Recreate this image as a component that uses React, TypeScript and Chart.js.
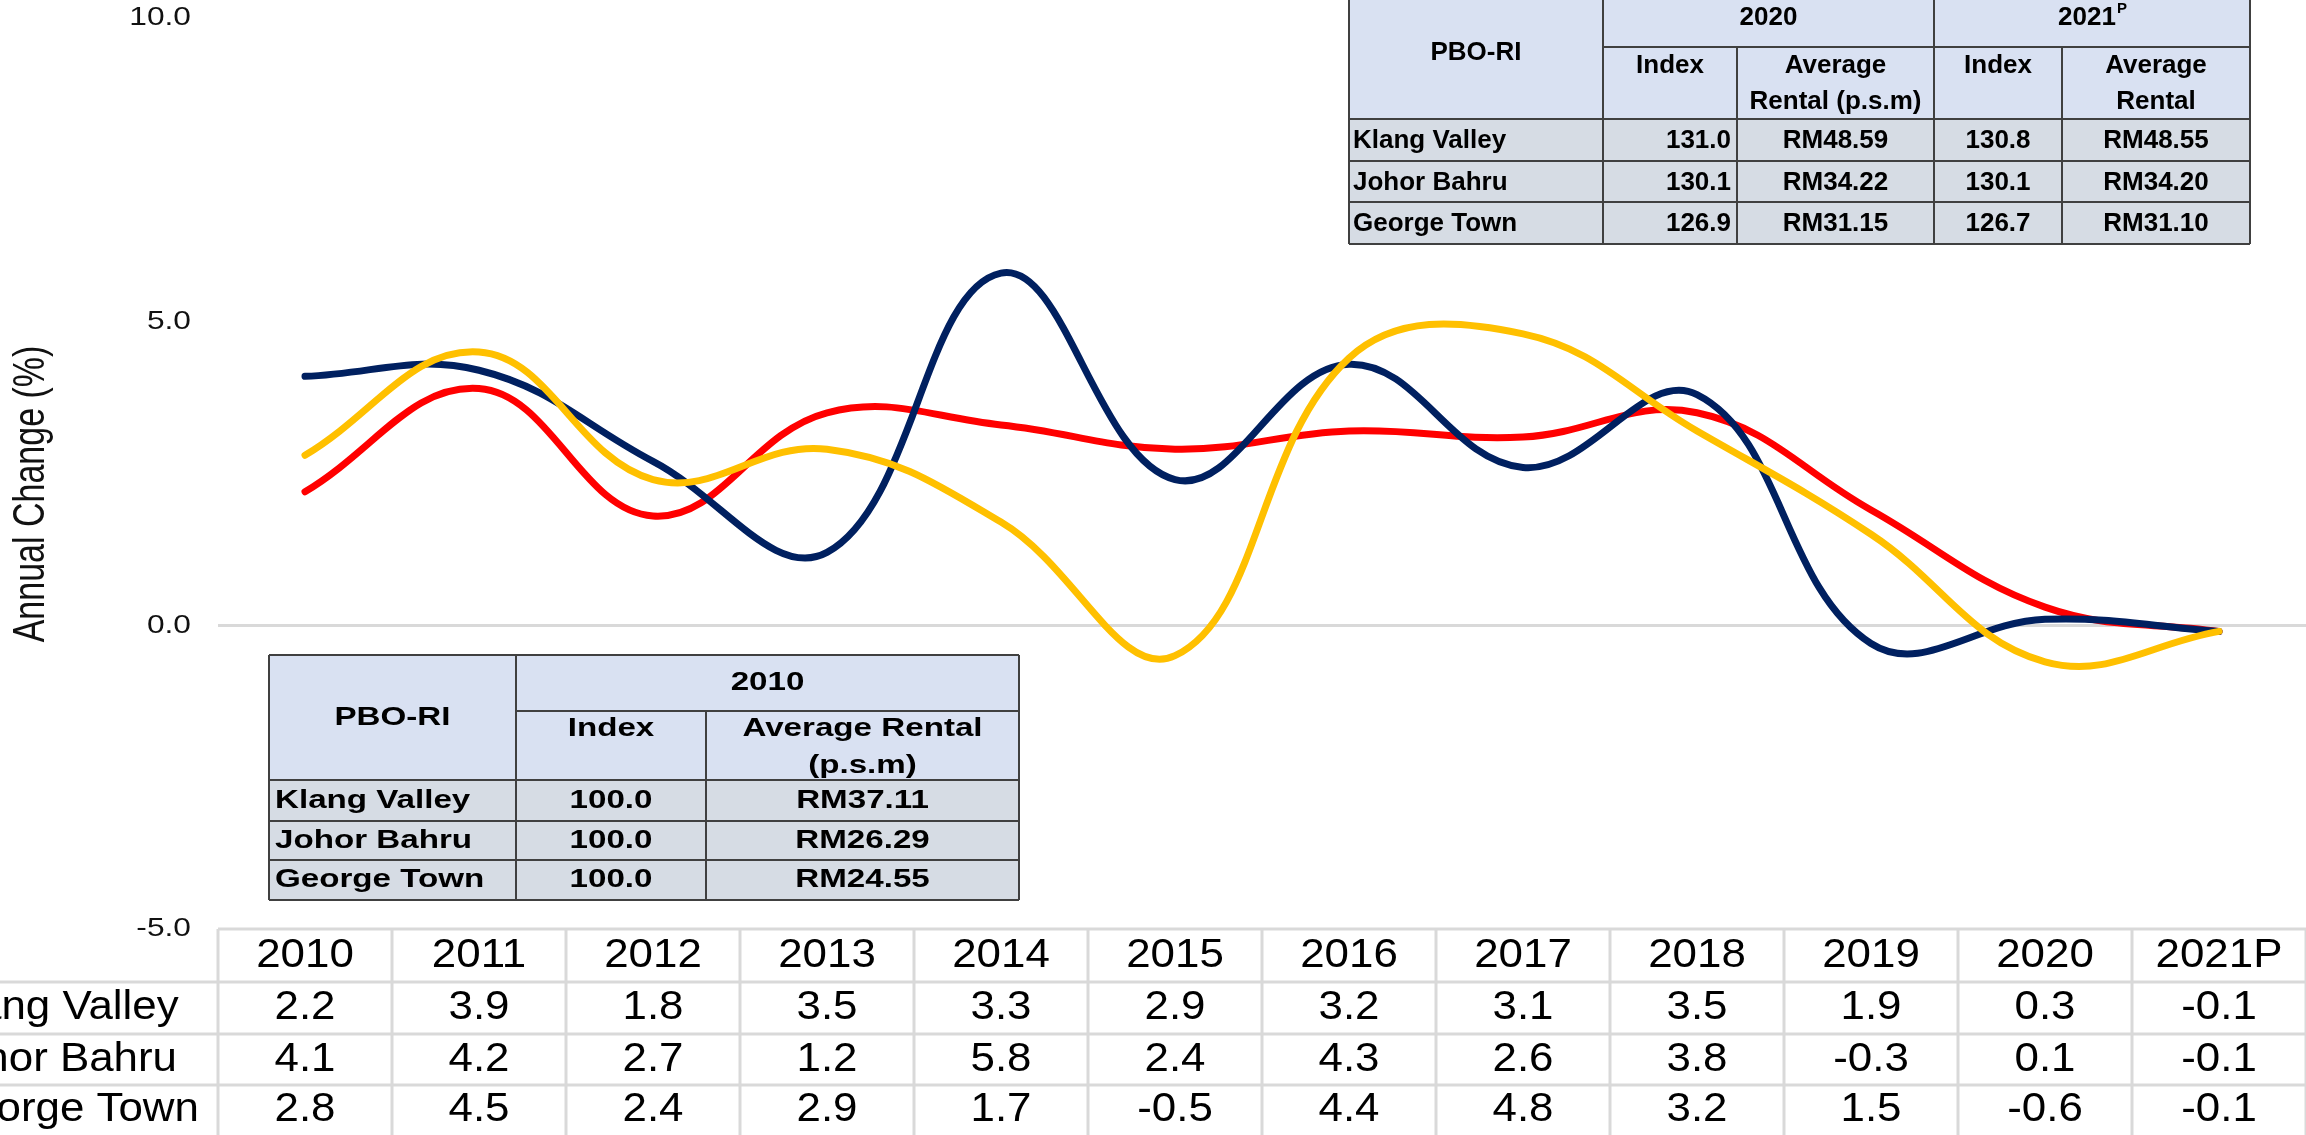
import { useEffect, useRef } from "react";
import { Chart, registerables } from "chart.js";

Chart.register(...registerables);

// ---------- data ----------
const categories = ["2010", "2011", "2012", "2013", "2014", "2015", "2016", "2017", "2018", "2019", "2020", "2021P"];
const seriesNames = ["Klang Valley", "Johor Bahru", "George Town"];
const klangValley = [2.2, 3.9, 1.8, 3.5, 3.3, 2.9, 3.2, 3.1, 3.5, 1.9, 0.3, -0.1];
const johorBahru = [4.1, 4.2, 2.7, 1.2, 5.8, 2.4, 4.3, 2.6, 3.8, -0.3, 0.1, -0.1];
const georgeTown = [2.8, 4.5, 2.4, 2.9, 1.7, -0.5, 4.4, 4.8, 3.2, 1.5, -0.6, -0.1];
const yMin = -5;
const yMax = 10;
const yStep = 5;
const yTitle = "Annual Change (%)";

// inset tables
const insetRegions = ["Klang Valley", "Johor Bahru", "George Town"];
const base2010Index = ["100.0", "100.0", "100.0"];
const base2010Rental = ["RM37.11", "RM26.29", "RM24.55"];
const index2020 = ["131.0", "130.1", "126.9"];
const rental2020 = ["RM48.59", "RM34.22", "RM31.15"];
const index2021 = ["130.8", "130.1", "126.7"];
const rental2021 = ["RM48.55", "RM34.20", "RM31.10"];

// ---------- styles / layout ----------
const FONT = "'Liberation Sans', Arial, sans-serif";
const COLORS = { klang: "#FF0000", johor: "#002060", george: "#FFC000" };
const GRID = "#D9D9D9";
const HEAD_BG = "#D9E1F2";
const ROW_BG = "#D6DCE4";
const BORDER = "#404040";
const W = 2306;
const H = 1135;

function txt(ctx: CanvasRenderingContext2D, s: string, x: number, y: number, size: number, bold: boolean, align: CanvasTextAlign, sx: number, color = "#000") {
  ctx.save();
  ctx.font = `${bold ? "bold " : ""}${size}px ${FONT}`;
  ctx.fillStyle = color;
  ctx.textAlign = align;
  ctx.textBaseline = "middle";
  ctx.translate(x, y);
  ctx.scale(sx, 1);
  ctx.fillText(s, 0, 0);
  ctx.restore();
}

function ln(ctx: CanvasRenderingContext2D, x1: number, y1: number, x2: number, y2: number, color: string, w: number) {
  ctx.save();
  ctx.strokeStyle = color;
  ctx.lineWidth = w;
  ctx.beginPath();
  ctx.moveTo(x1, y1);
  ctx.lineTo(x2, y2);
  ctx.stroke();
  ctx.restore();
}

function box(ctx: CanvasRenderingContext2D, x: number, y: number, w: number, h: number, fill: string) {
  ctx.save();
  ctx.fillStyle = fill;
  ctx.fillRect(x, y, w, h);
  ctx.restore();
}

function drawBaseTable(ctx: CanvasRenderingContext2D) {
  const xs = [269, 516, 706, 1019];
  const y0 = 655, yH = 711, y1 = 780;
  const rows = [780, 821, 860, 900];
  const fs = 25.5, sx = 1.3;
  box(ctx, xs[0], y0, xs[3] - xs[0], y1 - y0, HEAD_BG);
  box(ctx, xs[0], y1, xs[3] - xs[0], rows[3] - y1, ROW_BG);
  ln(ctx, xs[0], y0, xs[3], y0, BORDER, 2);
  ln(ctx, xs[0], rows[3], xs[3], rows[3], BORDER, 2);
  ln(ctx, xs[0], y0, xs[0], rows[3], BORDER, 2);
  ln(ctx, xs[3], y0, xs[3], rows[3], BORDER, 2);
  ln(ctx, xs[1], y0, xs[1], rows[3], BORDER, 2);
  ln(ctx, xs[2], yH, xs[2], rows[3], BORDER, 2);
  ln(ctx, xs[1], yH, xs[3], yH, BORDER, 2);
  for (let i = 0; i < 3; i++) ln(ctx, xs[0], rows[i], xs[3], rows[i], BORDER, 2);

  txt(ctx, "PBO-RI", (xs[0] + xs[1]) / 2, (y0 + y1) / 2, fs, true, "center", sx);
  txt(ctx, "2010", (xs[1] + xs[3]) / 2, (y0 + yH) / 2, fs, true, "center", sx);
  txt(ctx, "Index", (xs[1] + xs[2]) / 2, 729, fs, true, "center", sx);
  txt(ctx, "Average Rental", (xs[2] + xs[3]) / 2, 729, fs, true, "center", sx);
  txt(ctx, "(p.s.m)", (xs[2] + xs[3]) / 2, 766, fs, true, "center", sx);
  for (let i = 0; i < 3; i++) {
    const cy = (rows[i] + rows[i + 1]) / 2;
    txt(ctx, insetRegions[i], xs[0] + 6, cy, fs, true, "left", sx);
    txt(ctx, base2010Index[i], (xs[1] + xs[2]) / 2, cy, fs, true, "center", sx);
    txt(ctx, base2010Rental[i], (xs[2] + xs[3]) / 2, cy, fs, true, "center", sx);
  }
}

function drawLatestTable(ctx: CanvasRenderingContext2D) {
  const xs = [1349, 1603, 1737, 1934, 2062, 2250];
  const y0 = -13, yH = 47, y1 = 119;
  const rows = [119, 161, 202, 244];
  const fs = 26, sx = 1.0;
  box(ctx, xs[0], y0, xs[5] - xs[0], y1 - y0, HEAD_BG);
  box(ctx, xs[0], y1, xs[5] - xs[0], rows[3] - y1, ROW_BG);
  ln(ctx, xs[0], rows[3], xs[5], rows[3], BORDER, 2);
  ln(ctx, xs[0], y0, xs[0], rows[3], BORDER, 2);
  ln(ctx, xs[5], y0, xs[5], rows[3], BORDER, 2);
  ln(ctx, xs[1], y0, xs[1], rows[3], BORDER, 2);
  ln(ctx, xs[3], y0, xs[3], rows[3], BORDER, 2);
  ln(ctx, xs[2], yH, xs[2], rows[3], BORDER, 2);
  ln(ctx, xs[4], yH, xs[4], rows[3], BORDER, 2);
  ln(ctx, xs[1], yH, xs[5], yH, BORDER, 2);
  for (let i = 0; i < 3; i++) ln(ctx, xs[0], rows[i], xs[5], rows[i], BORDER, 2);

  txt(ctx, "PBO-RI", (xs[0] + xs[1]) / 2, (y0 + y1) / 2, fs, true, "center", sx);
  txt(ctx, "2020", (xs[1] + xs[3]) / 2, (y0 + yH) / 2 + 1, fs, true, "center", sx);
  // 2021 with superscript P
  ctx.save();
  ctx.font = `bold ${fs}px ${FONT}`;
  const w1 = ctx.measureText("2021").width * sx;
  ctx.font = `bold 15px ${FONT}`;
  const w2 = ctx.measureText("P").width * sx;
  ctx.restore();
  const gx = (xs[3] + xs[5]) / 2 - (w1 + w2) / 2;
  txt(ctx, "2021", gx, (y0 + yH) / 2 + 1, fs, true, "left", sx);
  txt(ctx, "P", gx + w1 + 1, (y0 + yH) / 2 - 8, 15, true, "left", sx);

  txt(ctx, "Index", (xs[1] + xs[2]) / 2, 66, fs, true, "center", sx);
  txt(ctx, "Average", (xs[2] + xs[3]) / 2, 66, fs, true, "center", sx);
  txt(ctx, "Rental (p.s.m)", (xs[2] + xs[3]) / 2, 102, fs, true, "center", sx);
  txt(ctx, "Index", (xs[3] + xs[4]) / 2, 66, fs, true, "center", sx);
  txt(ctx, "Average", (xs[4] + xs[5]) / 2, 66, fs, true, "center", sx);
  txt(ctx, "Rental", (xs[4] + xs[5]) / 2, 102, fs, true, "center", sx);
  for (let i = 0; i < 3; i++) {
    const cy = (rows[i] + rows[i + 1]) / 2 + 1;
    txt(ctx, insetRegions[i], xs[0] + 4, cy, fs, true, "left", sx);
    txt(ctx, index2020[i], xs[2] - 6, cy, fs, true, "right", sx);
    txt(ctx, rental2020[i], (xs[2] + xs[3]) / 2, cy, fs, true, "center", sx);
    txt(ctx, index2021[i], (xs[3] + xs[4]) / 2, cy, fs, true, "center", sx);
    txt(ctx, rental2021[i], (xs[4] + xs[5]) / 2, cy, fs, true, "center", sx);
  }
}

function drawDataTable(chart: any) {
  const ctx: CanvasRenderingContext2D = chart.ctx;
  const xs = chart.scales.x;
  const area = chart.chartArea;
  const n = categories.length;
  const band = (area.right - area.left) / n;
  const top = area.bottom;
  const rowLines = [top, 982, 1034, 1085];
  const fs = 41, sx = 1.07;
  // grid
  ln(ctx, area.left, rowLines[0], W, rowLines[0], GRID, 3);
  for (let r = 1; r < rowLines.length; r++) ln(ctx, 0, rowLines[r], W, rowLines[r], GRID, 3);
  for (let i = 0; i <= n; i++) {
    const x = i < n ? xs.getPixelForValue(i) - band / 2 : xs.getPixelForValue(n - 1) + band / 2;
    ln(ctx, x, top, x, H, GRID, 3);
  }
  const centers = [
    (rowLines[0] + rowLines[1]) / 2,
    (rowLines[1] + rowLines[2]) / 2,
    (rowLines[2] + rowLines[3]) / 2,
    (rowLines[3] + H) / 2,
  ];
  categories.forEach((c, i) => txt(ctx, c, xs.getPixelForValue(i), centers[0], fs, false, "center", sx));
  chart.data.datasets.forEach((ds: any, r: number) => {
    txt(ctx, ds.label, -62, centers[r + 1], fs, false, "left", sx);
    ds.data.forEach((v: number, i: number) => {
      txt(ctx, v.toFixed(1), xs.getPixelForValue(i), centers[r + 1], fs, false, "center", sx);
    });
  });
}

const decorPlugin = {
  id: "decor",
  beforeDraw(chart: any) {
    const s: any = chart.scales.y;
    if (s && !s.__stretched) {
      const orig = s.drawLabels;
      s.drawLabels = function (area: any) {
        const ctx: CanvasRenderingContext2D = this.ctx;
        const ax = this.right - this.options.ticks.padding;
        ctx.save();
        ctx.translate(ax, 0);
        ctx.scale(1.22, 1);
        ctx.translate(-ax, 0);
        orig.call(this, area);
        ctx.restore();
      };
      s.__stretched = true;
    }
  },
  afterDraw(chart: any) {
    const ctx: CanvasRenderingContext2D = chart.ctx;
    // y-axis title
    ctx.save();
    ctx.translate(32, 494);
    ctx.scale(1.3, 1);
    ctx.rotate(-Math.PI / 2);
    ctx.font = `34px ${FONT}`;
    ctx.fillStyle = "#111";
    ctx.textAlign = "center";
    ctx.textBaseline = "middle";
    ctx.fillText(yTitle, 0, 0);
    ctx.restore();

    drawDataTable(chart);
    drawBaseTable(ctx);
    drawLatestTable(ctx);
  },
};

export default function App() {
  const ref = useRef<HTMLCanvasElement>(null);
  useEffect(() => {
    const canvas = ref.current;
    if (!canvas) return;
    const common = {
      borderWidth: 7,
      pointRadius: 0,
      pointHoverRadius: 0,
      tension: 0.4,
      fill: false,
      borderCapStyle: "round" as const,
      borderJoinStyle: "round" as const,
    };
    const chart = new Chart(canvas, {
      type: "line",
      data: {
        labels: categories,
        datasets: [
          { label: seriesNames[0], data: klangValley, borderColor: COLORS.klang, backgroundColor: COLORS.klang, order: 3, ...common },
          { label: seriesNames[1], data: johorBahru, borderColor: COLORS.johor, backgroundColor: COLORS.johor, order: 2, ...common },
          { label: seriesNames[2], data: georgeTown, borderColor: COLORS.george, backgroundColor: COLORS.george, order: 1, ...common },
        ],
      },
      options: {
        responsive: false,
        animation: false,
        devicePixelRatio: 1,
        layout: { padding: { top: 18, bottom: H - 929, left: 0, right: 0 } },
        plugins: {
          legend: { display: false },
          tooltip: { enabled: false },
          title: { display: false },
        },
        scales: {
          x: { type: "category", display: false, offset: true },
          y: {
            min: yMin,
            max: yMax,
            afterFit: (s: any) => {
              s.width = 218;
              s.paddingTop = 0;
              s.paddingBottom = 0;
            },
            ticks: {
              stepSize: yStep,
              padding: 27,
              callback: (v: any) => Number(v).toFixed(1),
              font: { family: FONT, size: 26 },
              color: "#111",
            },
            grid: {
              drawTicks: false,
              lineWidth: 3,
              color: (c: any) => (c.tick && c.tick.value === 0 ? GRID : "rgba(0,0,0,0)"),
            },
            border: { display: false },
          },
        },
      },
      plugins: [decorPlugin],
    });
    return () => chart.destroy();
  }, []);
  return (
    <div style={{ position: "absolute", left: 0, top: 0, width: W, height: H, background: "#fff" }}>
      <canvas ref={ref} width={W} height={H} style={{ display: "block", width: W, height: H }} />
    </div>
  );
}
